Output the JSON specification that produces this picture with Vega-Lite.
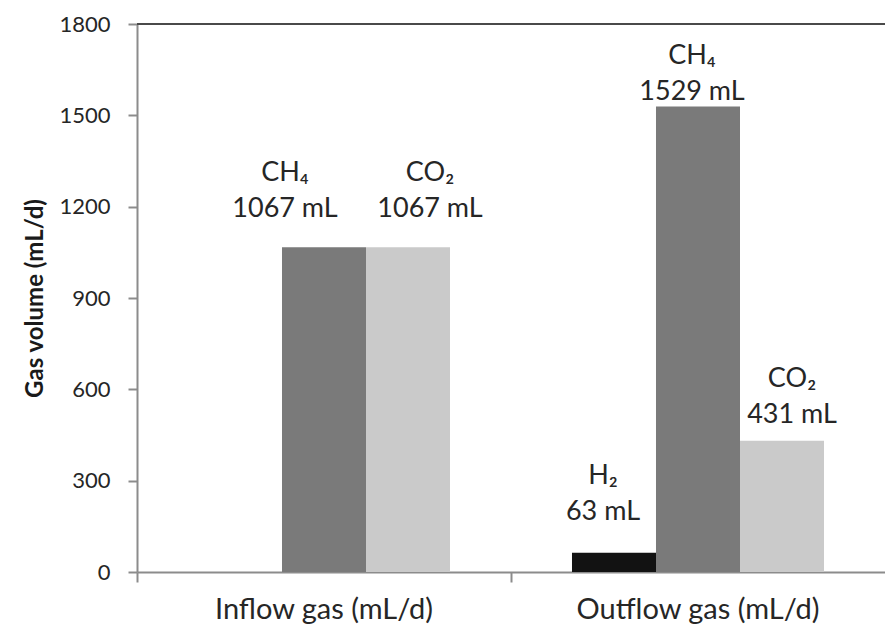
{
  "$schema": "https://vega.github.io/schema/vega-lite/v6.json",
  "width": 748,
  "height": 548,
  "autosize": {"type": "none"},
  "padding": {"left": 137, "top": 24, "right": 0, "bottom": 59},
  "background": "white",
  "config": {
    "font": "Lato",
    "view": {"stroke": null},
    "text": {"font": "Lato", "color": "#262626"}
  },
  "data": {
    "values": [
      {"flow": "Inflow gas (mL/d)", "gas": "H₂", "value": 0, "label": ""},
      {"flow": "Inflow gas (mL/d)", "gas": "CH₄", "value": 1067, "label": "CH₄\n1067 mL"},
      {"flow": "Inflow gas (mL/d)", "gas": "CO₂", "value": 1067, "label": "CO₂\n1067 mL"},
      {"flow": "Outflow gas (mL/d)", "gas": "H₂", "value": 63, "label": "H₂\n63 mL"},
      {"flow": "Outflow gas (mL/d)", "gas": "CH₄", "value": 1529, "label": "CH₄\n1529 mL"},
      {"flow": "Outflow gas (mL/d)", "gas": "CO₂", "value": 431, "label": "CO₂\n431 mL"}
    ]
  },
  "encoding": {
    "x": {
      "field": "flow", "type": "nominal", "sort": null,
      "scale": {"paddingInner": 0, "paddingOuter": 0},
      "axis": {
        "title": null, "labelAngle": 0, "bandPosition": 0, "labelLimit": 0,
        "labelFontSize": 29, "labelColor": "#262626", "labelPadding": 13,
        "domainColor": "#8c8c8c", "domainWidth": 2, "tickColor": "#8c8c8c", "tickWidth": 2, "tickSize": 10
      }
    },
    "xOffset": {
      "field": "gas", "type": "nominal", "sort": ["H₂", "CH₄", "CO₂"],
      "scale": {"paddingInner": 0, "paddingOuter": 0.726}
    },
    "y": {
      "field": "value", "type": "quantitative",
      "scale": {"domain": [0, 1800], "nice": false},
      "axis": {
        "values": [0, 300, 600, 900, 1200, 1500, 1800], "format": "d",
        "grid": false, "title": "Gas volume (mL/d)",
        "titleFontSize": 24, "titleFontWeight": "bold", "titleColor": "#1a1a1a", "titlePadding": 11,
        "labelFontSize": 22, "labelColor": "#262626", "labelPadding": 18,
        "domainColor": "#8c8c8c", "domainWidth": 2, "tickColor": "#8c8c8c", "tickWidth": 2, "tickSize": 9
      }
    }
  },
  "layer": [
    {
      "mark": {"type": "bar"},
      "encoding": {
        "color": {
          "field": "gas", "type": "nominal", "legend": null,
          "scale": {"domain": ["H₂", "CH₄", "CO₂"], "range": ["#121212", "#7a7a7a", "#cacaca"]}
        }
      }
    },
    {
      "mark": {"type": "rule", "color": "#4a4a4a", "strokeWidth": 2},
      "encoding": {"x": {"value": 0}, "x2": {"value": 748}, "xOffset": {"value": 0}, "y": {"datum": 1800}}
    },
    {
      "transform": [{"filter": "datum.flow == 'Inflow gas (mL/d)' && datum.gas == 'CH₄'"}],
      "mark": {"type": "text", "fontSize": 27, "lineBreak": "\n", "lineHeight": 36, "baseline": "bottom", "dx": -39, "dy": -60},
      "encoding": {"text": {"field": "label"}}
    },
    {
      "transform": [{"filter": "datum.flow == 'Inflow gas (mL/d)' && datum.gas == 'CO₂'"}],
      "mark": {"type": "text", "fontSize": 27, "lineBreak": "\n", "lineHeight": 36, "baseline": "bottom", "dx": 22, "dy": -60},
      "encoding": {"text": {"field": "label"}}
    },
    {
      "transform": [{"filter": "datum.flow == 'Outflow gas (mL/d)' && datum.gas == 'H₂'"}],
      "mark": {"type": "text", "fontSize": 27, "lineBreak": "\n", "lineHeight": 36, "baseline": "bottom", "dx": -11, "dy": -63},
      "encoding": {"text": {"field": "label"}}
    },
    {
      "transform": [{"filter": "datum.flow == 'Outflow gas (mL/d)' && datum.gas == 'CH₄'"}],
      "mark": {"type": "text", "fontSize": 27, "lineBreak": "\n", "lineHeight": 36, "baseline": "bottom", "dx": -6, "dy": -37},
      "encoding": {"text": {"field": "label"}}
    },
    {
      "transform": [{"filter": "datum.flow == 'Outflow gas (mL/d)' && datum.gas == 'CO₂'"}],
      "mark": {"type": "text", "fontSize": 27, "lineBreak": "\n", "lineHeight": 36, "baseline": "bottom", "dx": 10, "dy": -48},
      "encoding": {"text": {"field": "label"}}
    }
  ]
}
